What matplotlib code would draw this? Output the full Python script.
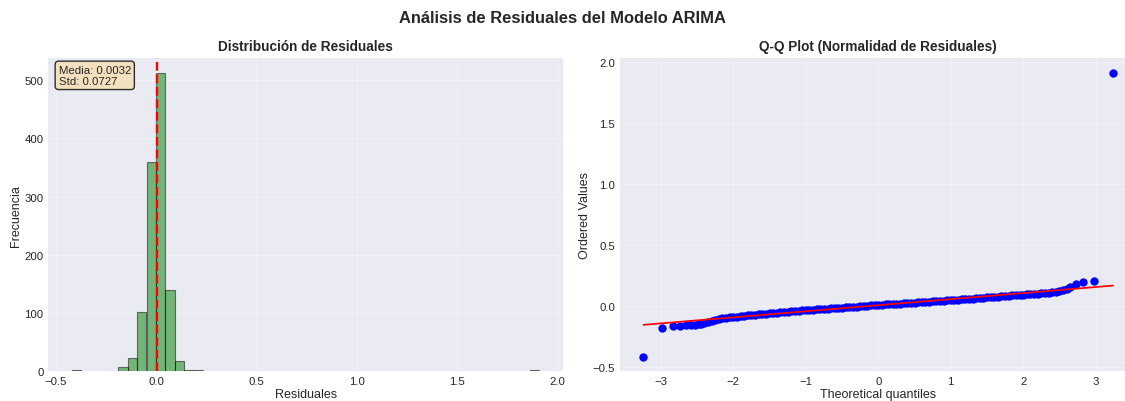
import matplotlib
matplotlib.use('Agg')
import matplotlib.pyplot as plt

plt.style.use('seaborn-v0_8-darkgrid')
plt.rcParams['font.family'] = ['Liberation Sans', 'DejaVu Sans']

# histogram of residuals (non-empty bins only)
bin_width = 0.0466
bin_lefts = [-0.420, -0.187, -0.140, -0.094, -0.047, -0.0006, 0.046, 0.0926, 0.139, 0.186, 1.863]
counts = [1, 7, 23, 102, 360, 512, 140, 17, 2, 1, 1]
res_mean = 0.0032
res_std = 0.0727

# Q-Q plot points
qq_theoretical = [
    -3.24, -2.98, -2.83, -2.73, -2.65, -2.58, -2.53, -2.48,
    -2.45, -2.40, -2.35, -2.30, -2.25, -2.20, -2.15, -2.10, -2.05, -2.00,
    -1.95, -1.90, -1.85, -1.80, -1.75, -1.70, -1.65, -1.60, -1.55, -1.50,
    -1.45, -1.40, -1.35, -1.30, -1.25, -1.20, -1.15, -1.10, -1.05, -1.00,
    -0.95, -0.90, -0.85, -0.80, -0.75, -0.70, -0.65, -0.60, -0.55, -0.50,
    -0.45, -0.40, -0.35, -0.30, -0.25, -0.20, -0.15, -0.10, -0.05, 0.00,
    0.05, 0.10, 0.15, 0.20, 0.25, 0.30, 0.35, 0.40, 0.45, 0.50,
    0.55, 0.60, 0.65, 0.70, 0.75, 0.80, 0.85, 0.90, 0.95, 1.00,
    1.05, 1.10, 1.15, 1.20, 1.25, 1.30, 1.35, 1.40, 1.45, 1.50,
    1.55, 1.60, 1.65, 1.70, 1.75, 1.80, 1.85, 1.90, 1.95, 2.00,
    2.05, 2.10, 2.15, 2.20, 2.25, 2.30, 2.35, 2.40, 2.45, 2.50,
    2.55, 2.60, 2.65, 2.73, 2.83, 2.98, 3.24,
]
qq_ordered = [
    -0.420, -0.181, -0.169, -0.166, -0.163, -0.160, -0.158, -0.154,
    -0.150, -0.143, -0.134, -0.124, -0.117, -0.111, -0.105, -0.100, -0.096, -0.093,
    -0.090, -0.087, -0.084, -0.081, -0.078, -0.075, -0.072, -0.069, -0.066, -0.063,
    -0.060, -0.058, -0.055, -0.052, -0.050, -0.047, -0.045, -0.042, -0.040, -0.037,
    -0.035, -0.033, -0.031, -0.028, -0.026, -0.024, -0.022, -0.020, -0.018, -0.016,
    -0.014, -0.012, -0.010, -0.008, -0.006, -0.004, -0.001, 0.001, 0.003, 0.005,
    0.007, 0.009, 0.011, 0.013, 0.015, 0.017, 0.019, 0.021, 0.023, 0.025,
    0.027, 0.029, 0.031, 0.033, 0.035, 0.037, 0.039, 0.041, 0.043, 0.045,
    0.047, 0.049, 0.051, 0.054, 0.056, 0.058, 0.060, 0.063, 0.065, 0.067,
    0.069, 0.072, 0.074, 0.076, 0.078, 0.081, 0.083, 0.086, 0.088, 0.090,
    0.092, 0.094, 0.096, 0.098, 0.100, 0.103, 0.105, 0.108, 0.112, 0.117,
    0.124, 0.133, 0.150, 0.178, 0.197, 0.203, 1.912,
]
fit_slope = 0.0497
fit_intercept = 0.0032

fig = plt.figure(figsize=(11.25, 4.02), dpi=100)
ax1 = fig.add_axes([0.0429, 0.0746, 0.4578, 0.7779])
ax2 = fig.add_axes([0.5511, 0.0746, 0.4592, 0.7779])

# left: histogram
ax1.bar(bin_lefts, counts, width=bin_width, align='edge', color='green',
        alpha=0.5, edgecolor='black', linewidth=0.8)
ax1.set_xlim(-0.4200 - 0.1165, 1.912 + 0.1165)
ax1.axvline(res_mean, color='red', linestyle='--', linewidth=1.7)
ax1.set_title('Distribución de Residuales', fontsize=9.8, fontweight='bold')
ax1.set_xlabel('Residuales', fontsize=9, labelpad=1.5)
ax1.set_ylabel('Frecuencia', fontsize=9, labelpad=1.5)
ax1.tick_params(labelsize=8.2)
ax1.grid(True, alpha=0.3)
ax1.text(0.02, 0.98, f'Media: {res_mean:.4f}\nStd: {res_std:.4f}',
         transform=ax1.transAxes, va='top', fontsize=8.2,
         bbox=dict(boxstyle='round', facecolor='wheat', alpha=0.8))

# right: Q-Q plot
ax2.plot(qq_theoretical, qq_ordered, 'bo', markersize=5)
x_ends = [qq_theoretical[0], qq_theoretical[-1]]
ax2.plot(x_ends, [fit_intercept + fit_slope * x for x in x_ends], 'r-', linewidth=1.25)
ax2.set_title('Q-Q Plot (Normalidad de Residuales)', fontsize=9.8, fontweight='bold')
ax2.set_xlabel('Theoretical quantiles', fontsize=9, labelpad=1.5)
ax2.set_ylabel('Ordered Values', fontsize=9, labelpad=1.5)
ax2.tick_params(labelsize=8.2)
ax2.grid(True, alpha=0.3)

fig.suptitle('Análisis de Residuales del Modelo ARIMA', fontsize=11.9,
             fontweight='bold', y=0.955, va='center')

plt.savefig('out.png', dpi=100)
plt.close()
